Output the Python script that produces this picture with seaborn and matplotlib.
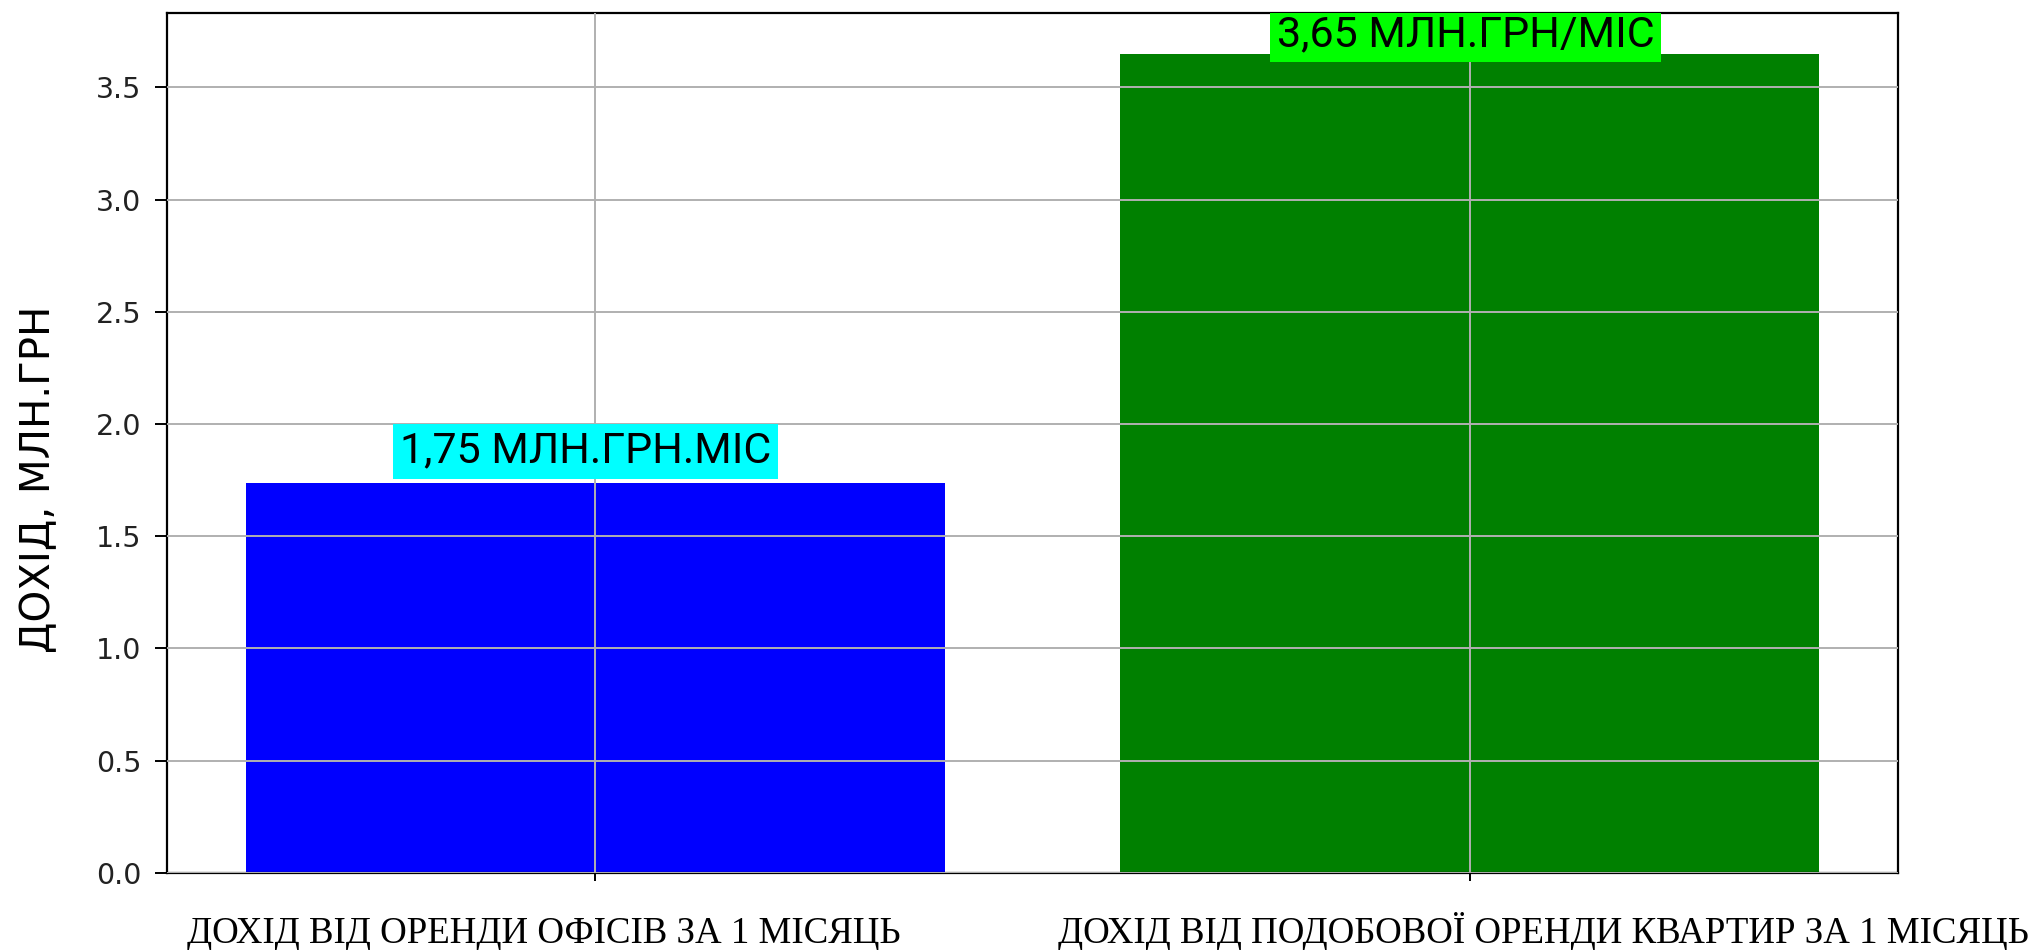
import matplotlib
matplotlib.use("Agg")
import matplotlib.pyplot as plt
import matplotlib.transforms as mtrans
import pandas as pd
import seaborn as sns

# ---- data ----
categories = ["ДОХІД ВІД ОРЕНДИ ОФІСІВ ЗА 1 МІСЯЦЬ",
              "ДОХІД ВІД ПОДОБОВОЇ ОРЕНДИ КВАРТИР ЗА 1 МІСЯЦЬ"]
values = [1.735, 3.65]
value_labels = ["1,75 МЛН.ГРН.МІС", "3,65 МЛН.ГРН/МІС"]
y_label = "ДОХІД, МЛН.ГРН"

# ---- styles ----
bar_colors = ["#0000FF", "#008000"]
label_box_colors = ["#00FFFF", "#00FF00"]

sns.set_theme(style="white")
plt.rcParams["font.family"] = ["DejaVu Sans"]

df = pd.DataFrame({"category": categories, "value": values})

W, H = 2043, 950
fig = plt.figure(figsize=(W / 100, H / 100), dpi=100)
fig.patch.set_facecolor("white")
left, right, top, bottom = 167, 1898, 12.7, 872.7
ax = fig.add_axes([left / W, 1 - bottom / H, (right - left) / W, (bottom - top) / H])

sns.barplot(data=df, x="category", y="value", hue="category",
            palette=bar_colors, width=0.8, saturation=1, linewidth=0,
            legend=False, ax=ax)

ax.set_xlim(-0.49, 1.49)
ax.set_ylim(0, max(values) * 1.05)

ax.grid(True, color="#b0b0b0", linewidth=1.4)
ax.set_axisbelow(False)
for sp in ax.spines.values():
    sp.set_visible(True)
    sp.set_color("black")
    sp.set_linewidth(1.6)

ax.tick_params(axis="y", left=True, length=8.6, width=1.4, labelsize=20.5,
               pad=10, color="black", labelcolor="#222222")
ax.tick_params(axis="x", bottom=True, length=5.8, width=1.4, labelsize=26.6,
               pad=44.9, color="black", labelcolor="black")

ax.set_xlabel("")
ax.set_ylabel(y_label, fontsize=29, color="black")
ax.yaxis.label.set_va("center")
ax.yaxis.label.set_ha("center")
ax.yaxis.set_label_coords(-0.074, 0.457)

x_offsets_in = [-0.52, 0.74]
for lab, dx in zip(ax.get_xticklabels(), x_offsets_in):
    lab.set_family(["Liberation Serif", "DejaVu Serif"])
    lab.set_va("baseline")
    lab.set_transform(lab.get_transform() +
                      mtrans.ScaledTranslation(dx, 0, fig.dpi_scale_trans))

text_offsets_pt = [(-7, 14.9), (-3, 5.5)]
for i, (v, txt, bc, off) in enumerate(zip(values, value_labels,
                                          label_box_colors, text_offsets_pt)):
    ax.annotate(txt, xy=(i, v), xytext=off, textcoords="offset points",
                ha="center", va="baseline", fontsize=31, color="black",
                family=["Roboto", "DejaVu Sans"],
                bbox=dict(boxstyle="square,pad=0.16", fc=bc, ec="none"),
                annotation_clip=False, clip_on=True)

fig.savefig("out.png", dpi=100)
